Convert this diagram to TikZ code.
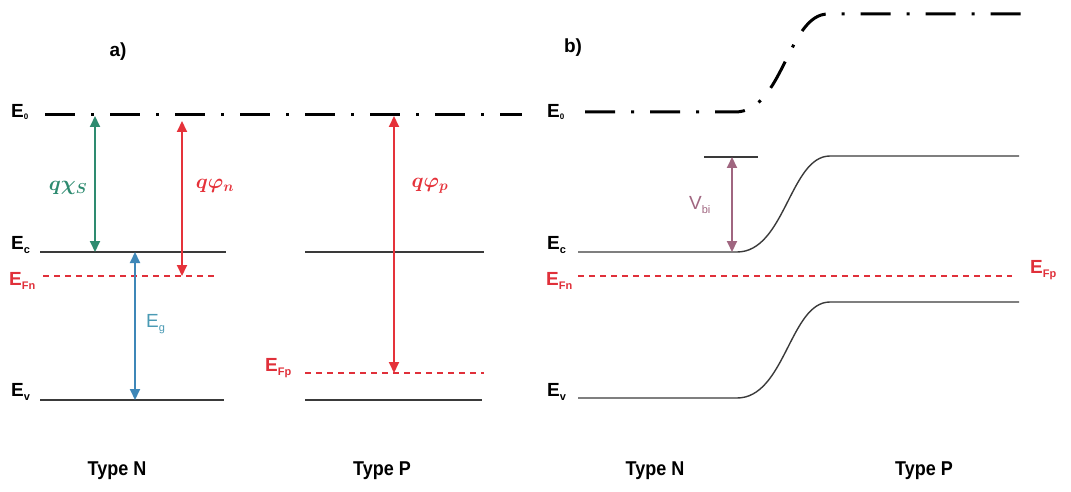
\documentclass[tikz,border=0pt]{standalone}
\usepackage{fontspec}
\setmainfont{Liberation Sans}
\usepackage{bm}
\usetikzlibrary{arrows.meta}
\definecolor{chigreen}{HTML}{2E8B70}
\definecolor{phired}{HTML}{E5323A}
\definecolor{egblue}{HTML}{3E87B8}
\definecolor{egtext}{HTML}{4A9AB4}
\definecolor{vbicol}{HTML}{A06680}
\definecolor{efred}{HTML}{E0303A}
\definecolor{band}{HTML}{3A3A3A}
\newcommand\lsub[1]{\raisebox{-0.45ex}{\fontsize{11}{11}\selectfont #1}}
\newcommand\tsub[1]{\raisebox{-0.2ex}{\fontsize{8}{8}\selectfont #1}}
\begin{document}
\begin{tikzpicture}[x=1pt,y=-1pt,
  lvl/.style={band,line width=1.4pt},
  fermi/.style={efred,line width=1.6pt,dash pattern=on 6pt off 5pt},
  vac/.style={black,line width=3pt,dash pattern=on 30pt off 16pt on 3pt off 16pt},
  dbl/.style={line width=2pt,{Triangle[length=11pt,width=10pt]}-{Triangle[length=11pt,width=10pt]}},
  lab/.style={font=\fontsize{19}{22}\selectfont\bfseries, inner sep=0pt},
  rlab/.style={font=\fontsize{19}{22}\selectfont, inner sep=0pt},
  mlab/.style={font=\fontsize{22}{24}\selectfont\boldmath, inner sep=0pt},
  typ/.style={font=\fontsize{20}{23}\selectfont\bfseries, inner sep=0pt}
]
\useasboundingbox (0,0) rectangle (1071,492);

% ---------- panel a ----------
\node[lab] (pa) at (118,52) {a)};
\node[lab,anchor=west] (E0a) at (11,112) {E\tsub{0}};
\node[lab,anchor=west] (Eca) at (11,245) {E\lsub{c}};
\node[lab,anchor=west,text=efred] (EFna) at (9,281) {E\lsub{Fn}};
\node[lab,anchor=west] (Eva) at (11,392) {E\lsub{v}};
\node[lab,anchor=west,text=efred] (EFpa) at (265,368) {E\lsub{Fp}};

\coordinate (a0s) at (45,115);   \coordinate (a0e) at (522,115);
\coordinate (acns) at (40,252);  \coordinate (acne) at (226,252);
\coordinate (afns) at (43,276);  \coordinate (afne) at (218,276);
\coordinate (avns) at (40,400);  \coordinate (avne) at (224,400);
\coordinate (acps) at (305,252); \coordinate (acpe) at (484,252);
\coordinate (afps) at (305,373); \coordinate (afpe) at (484,373);
\coordinate (avps) at (305,400); \coordinate (avpe) at (482,400);

\draw[vac] (a0s) -- (a0e);
\draw[lvl] (acns) -- (acne);
\draw[fermi] (afns) -- (afne);
\draw[lvl] (avns) -- (avne);
\draw[lvl] (acps) -- (acpe);
\draw[fermi] (afps) -- (afpe);
\draw[lvl] (avps) -- (avpe);

\coordinate (chiT) at (95,116);  \coordinate (chiB) at (95,252);
\coordinate (phnT) at (182,121); \coordinate (phnB) at (182,276);
\coordinate (egT) at (135,252);  \coordinate (egB) at (135,400);
\coordinate (phpT) at (394,116); \coordinate (phpB) at (394,373);
\draw[dbl,chigreen] (chiT) -- (chiB);
\draw[dbl,phired] (phnT) -- (phnB);
\draw[dbl,egblue] (egT) -- (egB);
\draw[dbl,phired] (phpT) -- (phpB);

\node[mlab,text=chigreen] (chil) at (68,188) {$q\chi_{S}$};
\node[mlab,text=phired] (phnl) at (215,186) {$q\varphi_{n}$};
\node[mlab,text=phired] (phpl) at (430,186) {$q\varphi_{p}$};
\node[rlab,anchor=west,text=egtext] (egl) at (146,324) {E\lsub{g}};

\node[typ] (tna) at (117,471) {\scalebox{0.9}[1]{Type N}};
\node[typ] (tpa) at (382,471) {\scalebox{0.9}[1]{Type P}};

% ---------- panel b ----------
\node[lab] (pb) at (573,48) {b)};
\node[lab,anchor=west] (E0b) at (547,112) {E\tsub{0}};
\node[lab,anchor=west] (Ecb) at (547,245) {E\lsub{c}};
\node[lab,anchor=west,text=efred] (EFnb) at (546,281) {E\lsub{Fn}};
\node[lab,anchor=west] (Evb) at (547,392) {E\lsub{v}};
\node[lab,anchor=west,text=efred] (EFpb) at (1030,270) {E\lsub{Fp}};

\coordinate (b0s) at (585,112);  \coordinate (b0e) at (1026,14);
\coordinate (bcs) at (578,252);  \coordinate (bce) at (1019,156);
\coordinate (bfs) at (578,276);  \coordinate (bfe) at (1012,276);
\coordinate (bvs) at (578,398);  \coordinate (bve) at (1019,302);
\coordinate (bar1) at (704,157); \coordinate (bar2) at (758,157);

\draw[vac] (b0s) -- (735,112) .. controls (783,112) and (788,14) .. (828,14) -- (b0e);
\draw[lvl] (bcs) -- (737,252) .. controls (785,252) and (790,156) .. (830,156) -- (bce);
\draw[fermi] (bfs) -- (bfe);
\draw[lvl] (bvs) -- (737,398) .. controls (785,398) and (790,302) .. (830,302) -- (bve);
\draw[lvl] (bar1) -- (bar2);

\coordinate (vbT) at (732,157); \coordinate (vbB) at (732,252);
\draw[dbl,vbicol] (vbT) -- (vbB);
\node[rlab,anchor=west,text=vbicol] (vbl) at (689,205) {V\lsub{bi}};

\node[typ] (tnb) at (655,471) {\scalebox{0.9}[1]{Type N}};
\node[typ] (tpb) at (924,471) {\scalebox{0.9}[1]{Type P}};
\end{tikzpicture}
\end{document}
